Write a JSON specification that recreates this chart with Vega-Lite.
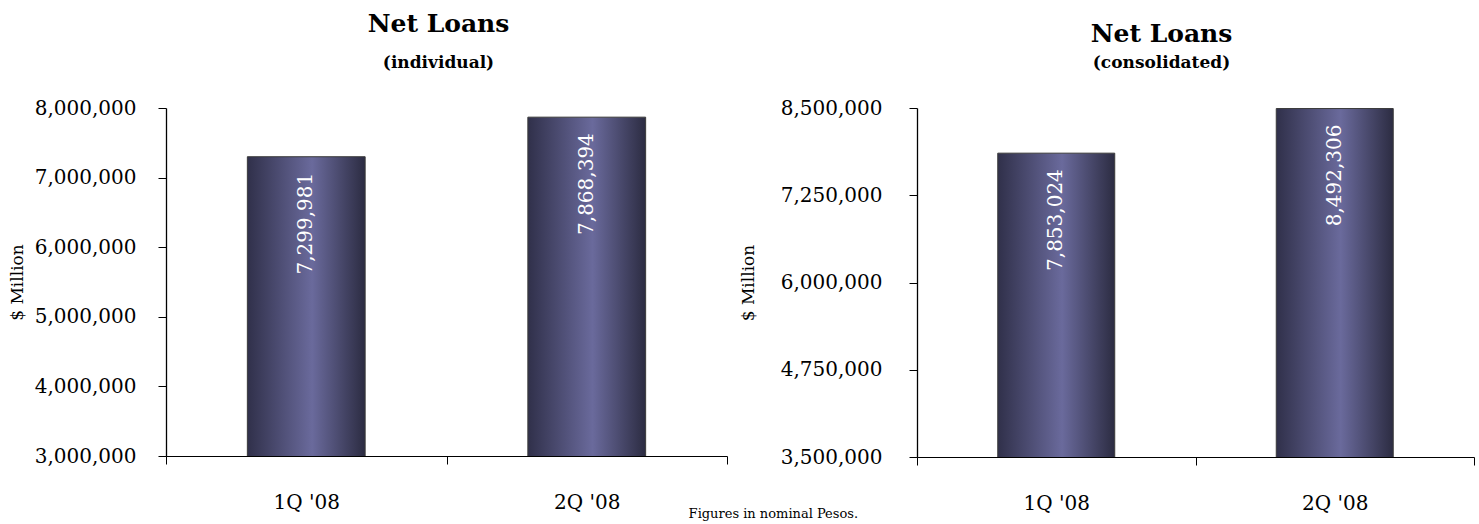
{
  "$schema": "https://vega.github.io/schema/vega-lite/v6.json",
  "background": "white",
  "padding": {"left": 8, "top": 12, "right": 4, "bottom": 0},
  "datasets": {
    "individual": [
      {"quarter": "1Q '08", "loans": 7299981},
      {"quarter": "2Q '08", "loans": 7868394}
    ],
    "consolidated": [
      {"quarter": "1Q '08", "loans": 7853024},
      {"quarter": "2Q '08", "loans": 8492306}
    ]
  },
  "config": {
    "font": "DejaVu Serif",
    "view": {"stroke": null},
    "axis": {
      "grid": false,
      "domain": true,
      "domainWidth": 1,
      "domainColor": "#000000",
      "domainOpacity": 1,
      "tickColor": "#000000",
      "tickSize": 8,
      "labelColor": "#000000",
      "labelFont": "DejaVu Serif",
      "labelFontSize": 20,
      "titleFont": "DejaVu Serif",
      "titleFontWeight": "normal",
      "titleFontSize": 17,
      "titleColor": "#000000"
    },
    "axisY": {"domain": true, "domainColor": "#000000", "domainWidth": 1.3},
    "title": {
      "font": "DejaVu Serif",
      "fontSize": 25,
      "fontWeight": "bold",
      "color": "#000000",
      "subtitleFont": "DejaVu Serif",
      "subtitleFontSize": 17,
      "subtitleFontWeight": "bold",
      "subtitleColor": "#000000"
    }
  },
  "title": {
    "text": "Figures in nominal Pesos.",
    "orient": "bottom",
    "anchor": "middle",
    "fontSize": 13,
    "fontWeight": "normal",
    "offset": -5,
    "dx": 32
  },
  "spacing": 11,
  "hconcat": [
    {
      "width": 561,
      "height": 348,
      "title": {"text": "Net Loans", "subtitle": "(individual)", "anchor": "middle", "dx": -8, "offset": 27, "subtitlePadding": 18},
      "data": {"name": "individual"},
      "encoding": {
        "x": {
          "field": "quarter", "type": "nominal",
          "scale": {"paddingInner": 0, "paddingOuter": 0},
          "axis": {"title": null, "labelAngle": 0, "tickBand": "extent", "labelPadding": 28}
        },
        "y": {
          "field": "loans", "type": "quantitative",
          "scale": {"domain": [3000000, 8000000], "nice": false, "zero": false},
          "axis": {"title": "$ Million", "domain": true, "values": [3000000, 4000000, 5000000, 6000000, 7000000, 8000000], "format": ",d", "labelPadding": 22, "titlePadding": 8}
        }
      },
      "layer": [
        {
          "mark": {
            "type": "bar",
            "clip": true,
            "width": {"band": 0.42},
            "stroke": "#3a3a3a",
            "strokeWidth": 1,
            "color": {
              "gradient": "linear", "x1": 0, "x2": 1, "y1": 0, "y2": 0,
              "stops": [
                {"offset": 0, "color": "#30304a"},
                {"offset": 0.55, "color": "#6a6a9c"},
                {"offset": 1, "color": "#2c2c42"}
              ]
            }
          }
        },
        {
          "mark": {"type": "text", "angle": -90, "align": "right", "baseline": "middle", "dx": -16, "color": "#ffffff", "fontSize": 20, "font": "DejaVu Serif"},
          "encoding": {"text": {"field": "loans", "type": "quantitative", "format": ","}}
        }
      ]
    },
    {
      "width": 557,
      "height": 349,
      "title": {"text": "Net Loans", "subtitle": "(consolidated)", "anchor": "middle", "dx": -34, "offset": 27, "subtitlePadding": 8},
      "data": {"name": "consolidated"},
      "encoding": {
        "x": {
          "field": "quarter", "type": "nominal",
          "scale": {"paddingInner": 0, "paddingOuter": 0},
          "axis": {"title": null, "labelAngle": 0, "tickBand": "extent", "labelPadding": 28}
        },
        "y": {
          "field": "loans", "type": "quantitative",
          "scale": {"domain": [3500000, 8500000], "nice": false, "zero": false},
          "axis": {"title": "$ Million", "domain": true, "values": [3500000, 4750000, 6000000, 7250000, 8500000], "format": ",d", "labelPadding": 27, "titlePadding": 23}
        }
      },
      "layer": [
        {
          "mark": {
            "type": "bar",
            "clip": true,
            "width": {"band": 0.42},
            "stroke": "#3a3a3a",
            "strokeWidth": 1,
            "color": {
              "gradient": "linear", "x1": 0, "x2": 1, "y1": 0, "y2": 0,
              "stops": [
                {"offset": 0, "color": "#30304a"},
                {"offset": 0.55, "color": "#6a6a9c"},
                {"offset": 1, "color": "#2c2c42"}
              ]
            }
          }
        },
        {
          "mark": {"type": "text", "angle": -90, "align": "right", "baseline": "middle", "dx": -16, "color": "#ffffff", "fontSize": 20, "font": "DejaVu Serif"},
          "encoding": {"text": {"field": "loans", "type": "quantitative", "format": ","}}
        }
      ]
    }
  ]
}
